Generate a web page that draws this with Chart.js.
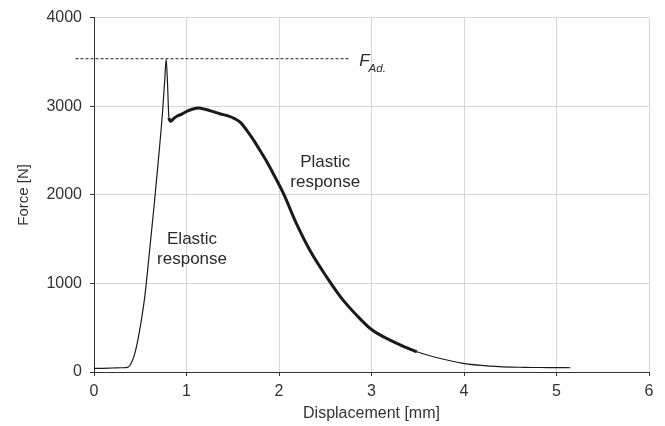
<!DOCTYPE html>
<html>
<head>
<meta charset="utf-8">
<script src="https://cdn.jsdelivr.net/npm/chart.js@4.4.1/dist/chart.umd.min.js"></script>
<style>
  html, body { margin: 0; padding: 0; background: #fff; }
</style>
</head>
<body>
<canvas id="chart" width="665" height="426"></canvas>
<script>
// displacement [mm] / force [N]
const displacement = [0, 0.1, 0.2, 0.3, 0.37, 0.40, 0.43, 0.46, 0.49, 0.52, 0.55, 0.60, 0.65, 0.695, 0.74, 0.765, 0.78,
  0.795, 0.81, 0.83, 0.86, 0.90, 0.95, 1.0, 1.06, 1.13, 1.2, 1.27, 1.36, 1.45, 1.52, 1.58, 1.65, 1.72, 1.795, 1.87,
  1.94, 2.05, 2.19, 2.335, 2.516, 2.68, 2.84, 3.0, 3.2, 3.49, 3.67, 3.99, 4.28, 4.64, 4.9, 5.15];
const force = [40, 42, 45, 48, 55, 95, 170, 290, 450, 640, 860, 1360, 1880, 2380, 2920, 3300, 3530,
  3250, 2870, 2830, 2860, 2890, 2910, 2940, 2965, 2980, 2965, 2945, 2915, 2890, 2860, 2820, 2730, 2625, 2500, 2370,
  2235, 2010, 1671, 1371, 1071, 828, 640, 479, 360, 228, 172, 97, 67, 53, 50, 48];

const fAdForce = 3536;
const fAdLineX = [-0.2, 2.77];

const xTickValues = [0, 1, 2, 3, 4, 5, 6];
const yTickValues = [0, 1000, 2000, 3000, 4000];

const FONT = '"Liberation Sans", Arial, sans-serif';
Chart.defaults.font.family = FONT;
Chart.defaults.color = '#333';

const notes = {
  id: 'notes',
  afterDatasetsDraw(chart) {
    const { ctx, scales: { x, y } } = chart;
    ctx.save();
    ctx.fillStyle = '#2a2a2a';
    ctx.textAlign = 'center';
    ctx.textBaseline = 'alphabetic';
    ctx.font = '17px ' + FONT;
    // two-line labels, anchored on the first baseline
    let cx = x.getPixelForValue(1.06), cy = y.getPixelForValue(1450);
    ctx.fillText('Elastic', cx, cy);
    ctx.fillText('response', cx, cy + 20);
    cx = x.getPixelForValue(2.50); cy = y.getPixelForValue(2315);
    ctx.fillText('Plastic', cx, cy);
    ctx.fillText('response', cx, cy + 20);

    // F_Ad. label at the end of the dashed line
    const lx = x.getPixelForValue(fAdLineX[1]) + 9;
    const ly = y.getPixelForValue(fAdForce);
    ctx.textAlign = 'left';
    ctx.font = 'italic 17px ' + FONT;
    ctx.fillText('F', lx, ly + 7);
    const fw = ctx.measureText('F').width;
    ctx.font = 'italic 11.5px ' + FONT;
    ctx.fillText('Ad.', lx + fw - 1, ly + 13);
    ctx.restore();
  }
};

new Chart(document.getElementById('chart'), {
  type: 'line',
  data: {
    datasets: [{
      label: 'Force',
      data: displacement.map((d, i) => ({ x: d, y: force[i] })),
      borderColor: '#1a1a1a',
      borderWidth: 1.2,
      pointRadius: 0,
      cubicInterpolationMode: 'monotone',
      segment: {
        borderWidth: c => (c.p0.parsed.x >= 0.8 && c.p1.parsed.x <= 3.5) ? 3 : 1.2
      }
    }, {
      label: 'F_Ad',
      data: fAdLineX.map(v => ({ x: v, y: fAdForce })),
      borderColor: '#222',
      borderWidth: 1,
      borderDash: [3, 2],
      pointRadius: 0,
      clip: false
    }]
  },
  options: {
    responsive: false,
    animation: false,
    layout: { padding: { top: 16, right: 16, left: 0, bottom: 0 } },
    plugins: { legend: { display: false }, tooltip: { enabled: false } },
    scales: {
      x: {
        type: 'linear',
        min: 0, max: 6,
        afterBuildTicks: s => { s.ticks = xTickValues.map(v => ({ value: v })); },
        afterFit: s => { s.height = 54; },
        grid: { color: '#d6d6d6', tickColor: '#333', tickLength: 4 },
        border: { color: '#333', width: 1 },
        ticks: { color: '#333', font: { size: 16 }, padding: 6, callback: v => String(v) },
        title: { display: true, text: 'Displacement [mm]', color: '#333', font: { size: 16 }, padding: { top: 0, bottom: 3 } }
      },
      y: {
        min: 0, max: 4000,
        afterBuildTicks: s => { s.ticks = yTickValues.map(v => ({ value: v })); },
        afterFit: s => { s.width = 94; },
        grid: { color: '#d6d6d6', tickColor: '#333', tickLength: 4 },
        border: { color: '#333', width: 1 },
        ticks: { color: '#333', font: { size: 16 }, padding: 8, callback: v => String(v) },
        title: { display: true, text: 'Force [N]', color: '#333', font: { size: 15 }, padding: { top: 15, bottom: 0 } }
      }
    }
  },
  plugins: [notes]
});
</script>
</body>
</html>
